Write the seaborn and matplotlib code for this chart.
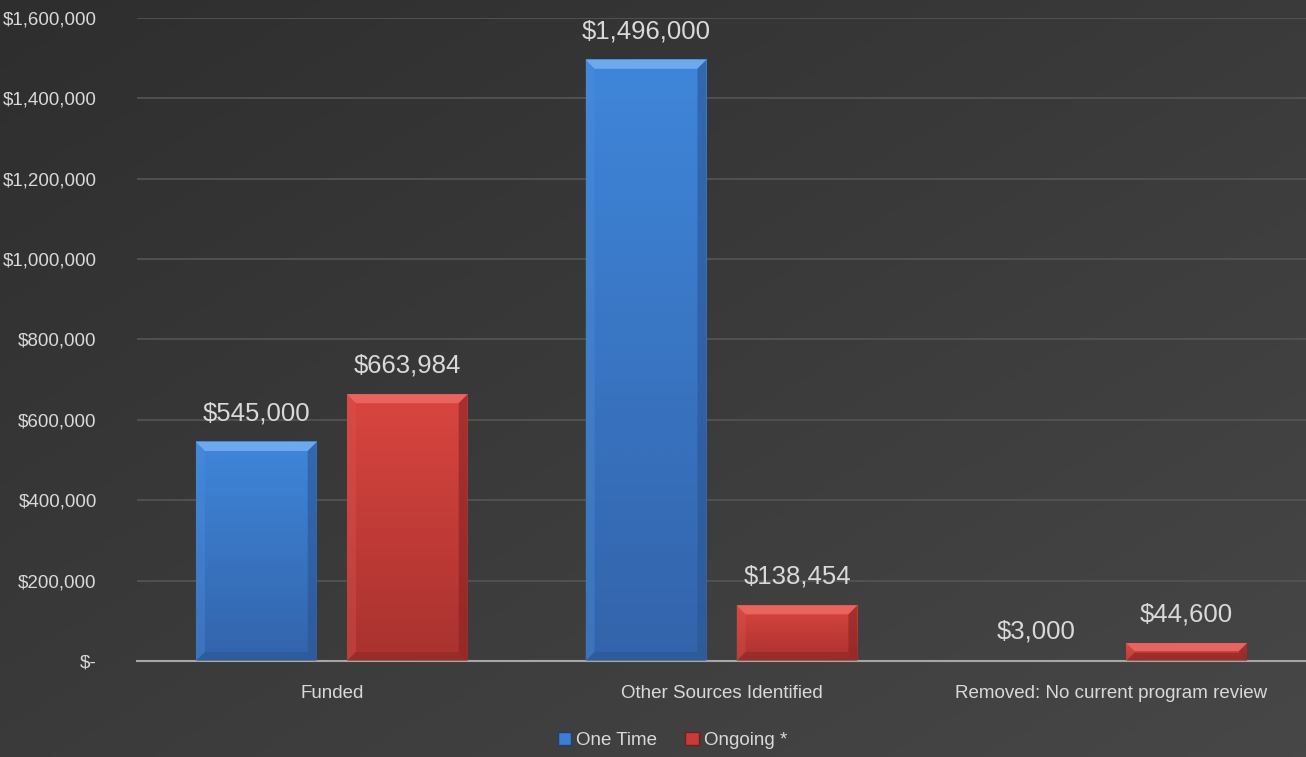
import numpy as np
import pandas as pd
import matplotlib
matplotlib.use("Agg")
import matplotlib.pyplot as plt
import seaborn as sns
from matplotlib.patches import Patch, Polygon
from matplotlib.colors import LinearSegmentedColormap

categories = ["Funded", "Other Sources Identified", "Removed: No current program review"]
series_names = ["One Time", "Ongoing *"]
one_time = [545000, 1496000, 3000]
ongoing = [663984, 138454, 44600]
yticks = [0, 200000, 400000, 600000, 800000, 1000000, 1200000, 1400000, 1600000]

df = pd.DataFrame({
    "category": categories * 2,
    "series": [series_names[0]] * 3 + [series_names[1]] * 3,
    "value": one_time + ongoing,
})

sns.set_theme(style="dark")
fam = ["Liberation Sans", "DejaVu Sans"]
plt.rcParams["font.family"] = fam
txt = "#d9d9d9"

fig = plt.figure(figsize=(13.06, 7.57), dpi=100)
fig.patch.set_facecolor("#3a3a3a")
bg = fig.add_axes([0, 0, 1, 1], zorder=-10)
xx, yy = np.meshgrid(np.linspace(0, 1, 200), np.linspace(0, 1, 200))
grad = 0.5 * xx + 0.5 * (1 - yy)
bg.imshow(grad, cmap=LinearSegmentedColormap.from_list("g", ["#2e2e2e", "#474747"]),
          aspect="auto", extent=[0, 1, 0, 1], origin="lower")
bg.axis("off")

ax = fig.add_axes([137 / 1306, 1 - 661 / 757, 1 - 137 / 1306, (661 - 18) / 757])
ax.set_facecolor("none")
palette = {series_names[0]: "#3b7fd0", series_names[1]: "#c93b39"}
sns.barplot(data=df, x="category", y="value", hue="series", palette=palette,
            width=0.775, gap=0.2, ax=ax, legend=False, saturation=1,
            edgecolor="none", linewidth=0)

ax.set_xlim(-0.5, 2.5)
ax.set_ylim(0, 1600000)
ax.set_yticks(yticks)
ax.set_yticklabels(["$-" if v == 0 else f"${v:,.0f}" for v in yticks])
ax.yaxis.grid(True, color="#555555", linewidth=1.2)
ax.xaxis.grid(False)
ax.set_axisbelow(True)
ax.tick_params(axis="y", length=0, pad=29, labelsize=13.5, labelcolor=txt)
ax.tick_params(axis="x", length=0, pad=17, labelsize=13.5, labelcolor=txt)
ax.set_xlabel("")
ax.set_ylabel("")
for s in ["top", "right", "left"]:
    ax.spines[s].set_visible(False)
ax.spines["bottom"].set_color("#a6a6a6")
ax.spines["bottom"].set_linewidth(1.5)
ax.spines["bottom"].set_zorder(5)

for cont in ax.containers:
    ax.bar_label(cont, labels=[f"${v:,.0f}" for v in cont.datavalues],
                 padding=12, fontsize=18.5, color=txt)

# bevel styling for the bars (drawn over each seaborn bar)
styles = {
    0: dict(top="#3f86da", bot="#3364ab", hi="#6ea9ee", lt="#4d90df", rt="#2a5590", bt="#2b5592"),
    1: dict(top="#d9453f", bot="#a9322f", hi="#e8655f", lt="#dc5550", rt="#862422", bt="#8d2826"),
}
fig.canvas.draw()
items = []
for si, cont in enumerate(ax.containers):
    for p in cont.patches:
        x0, y0 = p.get_x(), p.get_y()
        x1, y1 = x0 + p.get_width(), y0 + p.get_height()
        (X0, Y0), (X1, Y1) = ax.transData.transform([(x0, y0), (x1, y1)])
        items.append((si, p, x0, y0, x1, y1, X0, Y0, X1, Y1))

for si, p, x0, y0, x1, y1, X0, Y0, X1, Y1 in items:
    st = styles[si]
    h = Y1 - Y0
    if h < 1.5:
        p.set_facecolor("#8aa6cc")
        continue
    p.set_visible(False)
    cmap = LinearSegmentedColormap.from_list("b", [st["bot"], st["top"]])
    gimg = np.linspace(0, 1, 100).reshape(-1, 1)
    ax.imshow(gimg, cmap=cmap, aspect="auto", extent=[x0, x1, y0, y1],
              origin="lower", zorder=2, interpolation="bilinear")
    b = min(9, h / 2.2)
    kw = dict(transform=None, closed=True, linewidth=0, zorder=3)
    fig.add_artist(Polygon([(X0, Y1), (X1, Y1), (X1 - b, Y1 - b), (X0 + b, Y1 - b)], facecolor=st["hi"], **kw))
    fig.add_artist(Polygon([(X0, Y0), (X0, Y1), (X0 + b, Y1 - b), (X0 + b, Y0 + b)], facecolor=st["lt"], alpha=0.35, **kw))
    fig.add_artist(Polygon([(X1, Y0), (X1, Y1), (X1 - b, Y1 - b), (X1 - b, Y0 + b)], facecolor=st["rt"], alpha=0.6, **kw))
    fig.add_artist(Polygon([(X0, Y0), (X1, Y0), (X1 - b, Y0 + b), (X0 + b, Y0 + b)], facecolor=st["bt"], alpha=0.6, **kw))

ax.set_xlim(-0.5, 2.5)
ax.set_ylim(0, 1600000)

handles = [Patch(facecolor=palette[n], edgecolor="#1f3f70" if i == 0 else "#701f1f") for i, n in enumerate(series_names)]
fig.legend(handles, series_names, loc="lower center", bbox_to_anchor=(0.515, -0.012), ncol=2,
           frameon=False, fontsize=13.5, labelcolor=txt, handlelength=0.7, handleheight=0.7,
           handletextpad=0.3, columnspacing=1.5)

fig.savefig("out.png", dpi=100, facecolor=fig.get_facecolor())
